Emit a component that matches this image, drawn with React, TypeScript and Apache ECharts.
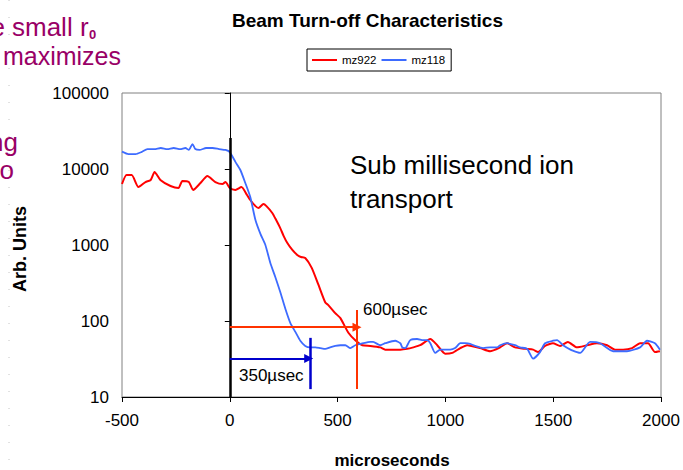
import React, { useEffect, useRef } from "react";
import * as echarts from "echarts";

// ---- data (time in microseconds, signal in arbitrary units) ----
const redName = "mz922";
const blueName = "mz118";

const redT = [-500,-479,-455,-424,-391,-367,-349,-322,-275,-238,-220,-190,-170,-136,-104,-67,-34,-20,0,26,54,80,95,119,133,156,170,197,215,234,250,267,290,313,330,350,380,411,443,457,489,513,550,582,615,652,698,721,791,823,851,883,930,962,999,1032,1069,1101,1161,1207,1254,1286,1323,1370,1407,1430,1462,1499,1532,1568,1610,1657,1703,1750,1787,1824,1866,1903,1940,1972,1995];
const redV = [6350,8340,8340,5800,6740,7170,9140,7170,5980,5620,6950,6740,5300,6540,8090,6740,6350,6740,5620,5300,5800,4550,3910,3250,3070,3460,3250,2640,2130,1670,1310,1060,860,738,695,675,500,300,175,162,127,109,70,56,48,47,45,42,42,43,45,48,58,48,37,38,44,48,44,40,45,51,45,43,42,39,47,51,47,53,45,48,51,48,42,42,44,51,51,39,40];

const blueT = [-500,-470,-437,-410,-382,-350,-320,-290,-260,-230,-206,-190,-173,-160,-140,-110,-80,-50,-20,0,26,49,72,95,119,142,165,188,211,234,258,281,304,327,350,373,397,420,443,465,489,513,536,559,582,619,652,665,698,721,767,791,800,814,837,869,897,916,930,953,976,999,1022,1045,1069,1092,1115,1138,1175,1207,1240,1254,1286,1323,1346,1379,1407,1439,1462,1499,1518,1546,1580,1610,1625,1671,1717,1778,1842,1903,1935,1972,1995];
const blueV = [16900,15700,15700,16700,18300,18300,18900,18300,18900,18300,18900,17800,21300,18300,17800,18900,18900,18300,17800,16700,12400,9700,6540,4280,2130,1400,1000,580,380,241,144,94,72,55,47,45,45,44,43,45,47,48,48,44,48,51,53,53,48,51,55,51,45,44,56,58,56,56,51,38,42,42,42,44,51,51,50,47,44,45,45,48,51,48,45,43,32,39,51,55,56,48,42,39,38,53,51,40,40,45,55,51,42];

const xTicks = { min: -500, max: 2000, interval: 500 };
const yTicks = { min: 10, max: 100000 };

// annotation values (data space)
const zeroLine = { t: 0, top: 25600, bottom: 10 };
const redArrow = { from: 0, to: 590, level: 83, markT: 590, markTop: 140, markBottom: 12.7 };
const blueArrow = { from: 0, to: 366, level: 32, markT: 373, markTop: 60, markBottom: 12.7 };

const FONT = '"Liberation Sans", Arial, Helvetica, sans-serif';
const PURPLE = "#990066";

export default function App() {
  const ref = useRef<HTMLDivElement>(null);
  useEffect(() => {
    if (!ref.current) return;
    const chart = echarts.init(ref.current, undefined, { renderer: "svg" });
    const zip = (t: number[], v: number[]) => t.map((x, i) => [x, v[i]]);
    const txt = (text: string, x: number, y: number, font: string, fill = "#000", align = "left", extra: any = {}) => ({
      type: "text",
      x,
      y,
      silent: true,
      ...extra,
      style: { text, font, fill, align, verticalAlign: "middle", textAlign: align, textVerticalAlign: "middle" },
    });
    const option: any = {
      animation: false,
      grid: { left: 122, right: 22, top: 93, bottom: 73, show: true, borderColor: "#808080", borderWidth: 1 },
      legend: {
        data: [redName, blueName],
        left: 307,
        top: 49,
        orient: "horizontal",
        borderColor: "#000",
        borderWidth: 1,
        padding: [4, 6, 4, 5],
        itemGap: 5,
        itemWidth: 25,
        itemHeight: 2,
        icon: "rect",
        textStyle: { fontSize: 11.5, color: "#000", fontFamily: FONT, lineHeight: 14 },
        selectedMode: false,
      },
      xAxis: {
        type: "value",
        min: xTicks.min,
        max: xTicks.max,
        interval: xTicks.interval,
        axisLine: { show: true, onZero: false, lineStyle: { color: "#000", width: 1 } },
        axisTick: { show: true, length: 5, lineStyle: { color: "#000" } },
        axisLabel: { fontSize: 17, color: "#000", fontFamily: FONT, margin: 15, formatter: (v: number) => String(Math.round(v)) },
        splitLine: { show: false },
      },
      yAxis: {
        type: "log",
        logBase: 10,
        min: yTicks.min,
        max: yTicks.max,
        axisLine: { show: true, lineStyle: { color: "#000", width: 1 } },
        axisTick: { show: true, length: 5, lineStyle: { color: "#000" } },
        axisLabel: { fontSize: 17, color: "#000", fontFamily: FONT, margin: 13, formatter: (v: number) => String(Math.round(v)) },
        splitLine: { show: false },
        minorTick: { show: false },
      },
      series: [
        {
          name: redName,
          type: "line",
          data: zip(redT, redV),
          symbol: "none",
          smooth: 0.2,
          lineStyle: { color: "#FF0000", width: 2 },
          itemStyle: { color: "#FF0000" },
          silent: true,
        },
        {
          name: blueName,
          type: "line",
          data: zip(blueT, blueV),
          symbol: "none",
          smooth: 0.2,
          lineStyle: { color: "#3D6BFF", width: 1.8 },
          itemStyle: { color: "#3D6BFF" },
          silent: true,
        },
        {
          name: "annotations",
          type: "line",
          data: [],
          silent: true,
          markLine: {
            silent: true,
            animation: false,
            label: { show: false },
            emphasis: { disabled: true },
            symbol: ["none", "none"],
            data: [
              [
                { coord: [zeroLine.t, zeroLine.top], lineStyle: { color: "#000", width: 2.5, type: "solid" } },
                { coord: [zeroLine.t, zeroLine.bottom] },
              ],
              [
                { coord: [redArrow.from, redArrow.level], symbol: "none", lineStyle: { color: "#FF3300", width: 2, type: "solid" } },
                { coord: [redArrow.to, redArrow.level], symbol: "triangle", symbolSize: [9, 9] },
              ],
              [
                { coord: [redArrow.markT, redArrow.markTop], lineStyle: { color: "#FF3300", width: 2, type: "solid" } },
                { coord: [redArrow.markT, redArrow.markBottom] },
              ],
              [
                { coord: [blueArrow.from, blueArrow.level], symbol: "none", lineStyle: { color: "#0000CC", width: 2, type: "solid" } },
                { coord: [blueArrow.to, blueArrow.level], symbol: "triangle", symbolSize: [9, 9] },
              ],
              [
                { coord: [blueArrow.markT, blueArrow.markTop], lineStyle: { color: "#0000CC", width: 2.5, type: "solid" } },
                { coord: [blueArrow.markT, blueArrow.markBottom] },
              ],
            ],
          },
        },
      ],
      graphic: [
        { type: "line", silent: true, shape: { x1: 9, y1: 0, x2: 9, y2: 470 }, style: { stroke: "#c4c4c4", lineWidth: 1, lineDash: [1, 16] } },
        txt("Beam Turn-off Characteristics", 232, 20.5, `bold 19px ${FONT}`),
        txt("Sub millisecond ion", 350, 165, `26px ${FONT}`),
        txt("transport", 350, 199, `26px ${FONT}`),
        txt("600\u00b5sec", 363, 309, `17px ${FONT}`),
        txt("350\u00b5sec", 239, 375, `17px ${FONT}`),
        txt("microseconds", 392, 460, `bold 17px ${FONT}`, "#000", "center"),
        txt("Arb. Units", 20, 249, `bold 18px ${FONT}`, "#000", "center", { rotation: Math.PI / 2 }),
        txt("e", 5, 27, `26px ${FONT}`, PURPLE, "right"),
        txt("small r", 12, 27, `26px ${FONT}`, PURPLE, "left"),
        txt("0", 89, 34, `bold 13px ${FONT}`, PURPLE, "left"),
        txt("maximizes", 121, 56, `25px ${FONT}`, PURPLE, "right"),
        txt("ng", 18, 142, `26px ${FONT}`, PURPLE, "right"),
        txt("o", 14, 170, `26px ${FONT}`, PURPLE, "right"),
      ],
    };
    chart.setOption(option);
    return () => chart.dispose();
  }, []);
  return (
    <div
      ref={ref}
      style={{ position: "fixed", left: 0, top: 0, width: 683, height: 470, background: "#fff" }}
    />
  );
}
